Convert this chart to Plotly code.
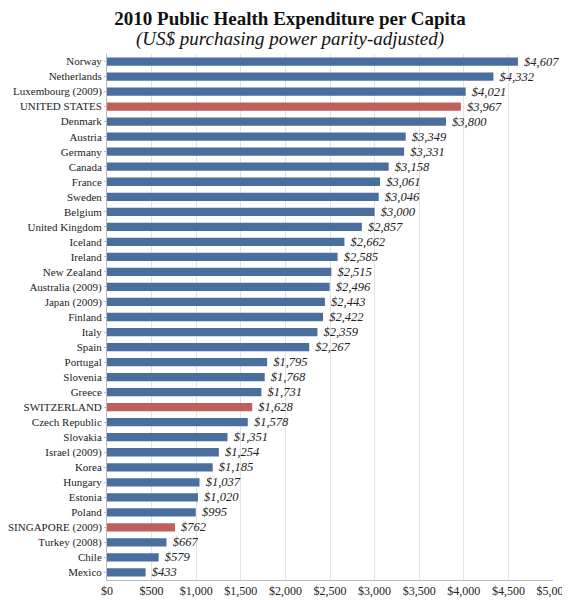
import plotly.graph_objects as go

# 数据
countries = ['Norway', 'Netherlands', 'Luxembourg (2009)', 'UNITED STATES', 'Denmark',
             'Austria', 'Germany', 'Canada', 'France', 'Sweden', 'Belgium',
             'United Kingdom', 'Iceland', 'Ireland', 'New Zealand', 'Australia (2009)',
             'Japan (2009)', 'Finland', 'Italy', 'Spain', 'Portugal', 'Slovenia',
             'Greece', 'SWITZERLAND', 'Czech Republic', 'Slovakia', 'Israel (2009)',
             'Korea', 'Hungary', 'Estonia', 'Poland', 'SINGAPORE (2009)',
             'Turkey (2008)', 'Chile', 'Mexico']
spending = [4607, 4332, 4021, 3967, 3800, 3349, 3331, 3158, 3061, 3046, 3000,
            2857, 2662, 2585, 2515, 2496, 2443, 2422, 2359, 2267, 1795, 1768,
            1731, 1628, 1578, 1351, 1254, 1185, 1037, 1020, 995, 762,
            667, 579, 433]
highlight = ['UNITED STATES', 'SWITZERLAND', 'SINGAPORE (2009)']
tick_vals = list(range(0, 5001, 500))
tick_text = ['$' + format(v, ',') for v in tick_vals]

colors = ['#c0605c' if c in highlight else '#4a6f9f' for c in countries]

# 页面有 8px 的默认边距，所以图整体缩小一点
fig = go.Figure(go.Bar(
    x=spending, y=countries, orientation='h',
    marker=dict(color=colors, line=dict(width=0)),
    text=['$' + format(v, ',') for v in spending],
    textposition='outside',
    constraintext='none',
    textfont=dict(family='Liberation Serif', size=12.5, color='#222'),
    texttemplate='\u00a0<i>%{text}</i>',
    cliponaxis=False,
))

fig.update_layout(
    width=562, height=592,
    margin=dict(l=99, r=17, t=46, b=20),
    plot_bgcolor='white', paper_bgcolor='white',
    font=dict(family='Liberation Serif', size=12, color='#222'),
    bargap=0.45,
    showlegend=False,
    title=dict(text='<b>2010 Public Health Expenditure per Capita</b>',
               x=282 / 562, xref='container', xanchor='center',
               y=0.994, yref='container', yanchor='top', pad=dict(t=0),
               font=dict(size=19, family='Liberation Serif', color='#111')),
    annotations=[
        dict(text='<i>(US$ purchasing power parity-adjusted)</i>',
             x=(282 - 99) / 446, y=1.029, xref='paper', yref='paper',
             yanchor='middle', xanchor='center', showarrow=False,
             font=dict(size=19, family='Liberation Serif', color='#111')),
    ],
)
fig.update_xaxes(range=[0, 5000], tickvals=tick_vals, ticktext=tick_text,
                 showgrid=True, gridcolor='#e3e3e3', showline=True,
                 linecolor='#bbbbbb', ticks='', tickfont=dict(size=12),
                 zeroline=False, automargin=False)
fig.update_yaxes(autorange='reversed', showline=True, linecolor='#bbbbbb',
                 ticks='outside', tickcolor='#bbbbbb', ticklen=2,
                 tickfont=dict(size=11), automargin=False)

fig.write_html("out.html")
